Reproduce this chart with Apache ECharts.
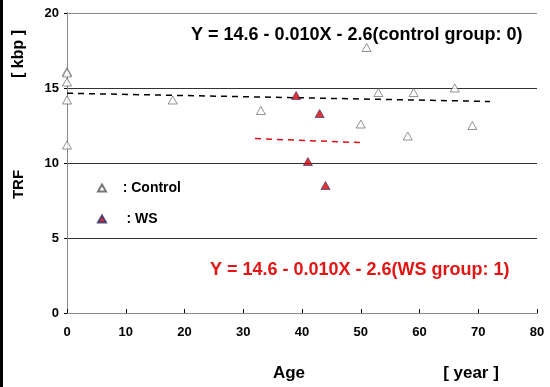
<!DOCTYPE html>
<html><head><meta charset="utf-8">
<script src="https://cdn.jsdelivr.net/npm/echarts@6/dist/echarts.min.js"></script>
<style>html,body{margin:0;padding:0;background:#fff}#c{width:550px;height:387px}</style>
</head><body><div id="c"></div>
<script>
const controlAge = [0, 0, 0, 0, 0, 18, 33, 50, 51, 53, 58, 59, 66, 69];
const controlTRF = [16.1, 16.0, 15.4, 14.2, 11.2, 14.2, 13.5, 12.6, 17.7, 14.7, 11.8, 14.7, 15.0, 12.5];
const wsAge = [39, 41, 43, 44];
const wsTRF = [14.5, 10.1, 13.3, 8.5];
const controlFitX = [0, 72];
const controlFitY = [14.65, 14.1];
const wsFitX = [32, 50.5];
const wsFitY = [11.63, 11.35];
const xTicks = [0, 10, 20, 30, 40, 50, 60, 70, 80];
const yTicks = [0, 5, 10, 15, 20];
const eqControl = 'Y = 14.6 - 0.010X - 2.6(control group: 0)';
const eqWS = 'Y = 14.6 - 0.010X - 2.6(WS group: 1)';

const font = '"Liberation Sans", Arial, sans-serif';
const zip = (a, b) => a.map((v, i) => [v, b[i]]);
const chart = echarts.init(document.getElementById('c'));
chart.setOption({
  animation: false,
  backgroundColor: '#fff',
  grid: {left: 67, right: 13, top: 13, bottom: 74},
  xAxis: [{
    type: 'value', min: xTicks[0], max: xTicks[xTicks.length - 1], interval: 10,
    axisLine: {lineStyle: {color: '#000', width: 1}},
    axisTick: {show: true, inside: true, length: 4, lineStyle: {color: '#000'}},
    axisLabel: {color: '#000', fontFamily: font, fontWeight: 'bold', fontSize: 13, margin: 13},
    splitLine: {show: false}
  }, {
    type: 'value', position: 'top', min: 0, max: 80,
    axisLine: {show: true, lineStyle: {color: '#888'}},
    axisTick: {show: false}, axisLabel: {show: false}, splitLine: {show: false}
  }],
  yAxis: [{
    type: 'value', min: yTicks[0], max: yTicks[yTicks.length - 1], interval: 5,
    axisLine: {show: true, lineStyle: {color: '#000'}},
    axisTick: {show: true, length: 3, lineStyle: {color: '#000'}},
    axisLabel: {color: '#000', fontFamily: font, fontWeight: 'bold', fontSize: 13, margin: 8},
    splitLine: {show: true, lineStyle: {color: ['#000', '#333', '#333', '#333', '#888'], width: 1}}
  }, {
    type: 'value', position: 'right', min: 0, max: 20,
    axisLine: {show: true, lineStyle: {color: '#888'}},
    axisTick: {show: false}, axisLabel: {show: false}, splitLine: {show: false}
  }],
  legend: {
    orient: 'vertical', left: 92, top: 175, itemGap: 15, itemWidth: 8, itemHeight: 7,
    data: ['Control', 'WS'],
    formatter: n => n === 'WS' ? '    : ' + n : '   : ' + n,
    textStyle: {color: '#000', fontFamily: font, fontWeight: 'bold', fontSize: 14, lineHeight: 16}
  },
  series: [{
    name: 'Control', type: 'scatter', data: zip(controlAge, controlTRF),
    symbol: 'triangle', symbolSize: [9, 8],
    itemStyle: {color: '#fff', borderColor: '#555', borderWidth: 0.8}
  }, {
    name: 'WS', type: 'scatter', data: zip(wsAge, wsTRF),
    symbol: 'triangle', symbolSize: [9, 8],
    itemStyle: {color: '#d80000', borderColor: '#2a2a6a', borderWidth: 0.8}
  }, {
    name: 'ctrlfit', type: 'line', data: zip(controlFitX, controlFitY), showSymbol: false, symbol: 'none',
    lineStyle: {color: '#000', width: 1.5, type: [6, 5]}, z: 1
  }, {
    name: 'wsfit', type: 'line', data: zip(wsFitX, wsFitY), showSymbol: false, symbol: 'none',
    lineStyle: {color: '#e01010', width: 1.5, type: [6, 5]}, z: 1
  }],
  graphic: [
    {type: 'rect', left: 0, top: 0, shape: {width: 3, height: 387}, style: {fill: '#000'}},
    {type: 'text', x: 191, y: 35, style: {text: eqControl, fill: '#000', font: 'bold 18px ' + font, verticalAlign: 'middle'}},
    {type: 'text', x: 210, y: 270, style: {text: eqWS, fill: '#e41414', font: 'bold 18px ' + font, verticalAlign: 'middle'}},
    {type: 'text', x: 289, y: 373, style: {text: 'Age', fill: '#000', font: 'bold 17px ' + font, align: 'center', verticalAlign: 'middle'}},
    {type: 'text', x: 471, y: 373, style: {text: '[ year ]', fill: '#000', font: 'bold 17px ' + font, align: 'center', verticalAlign: 'middle'}},
    {type: 'text', x: 18.5, y: 184.5, rotation: Math.PI / 2, style: {text: 'TRF', fill: '#000', font: 'bold 15px ' + font, align: 'center', verticalAlign: 'middle'}},
    {type: 'text', x: 18.5, y: 54, rotation: Math.PI / 2, style: {text: '[ kbp ]', fill: '#000', font: 'bold 16px ' + font, align: 'center', verticalAlign: 'middle'}}
  ]
});
</script></body></html>
